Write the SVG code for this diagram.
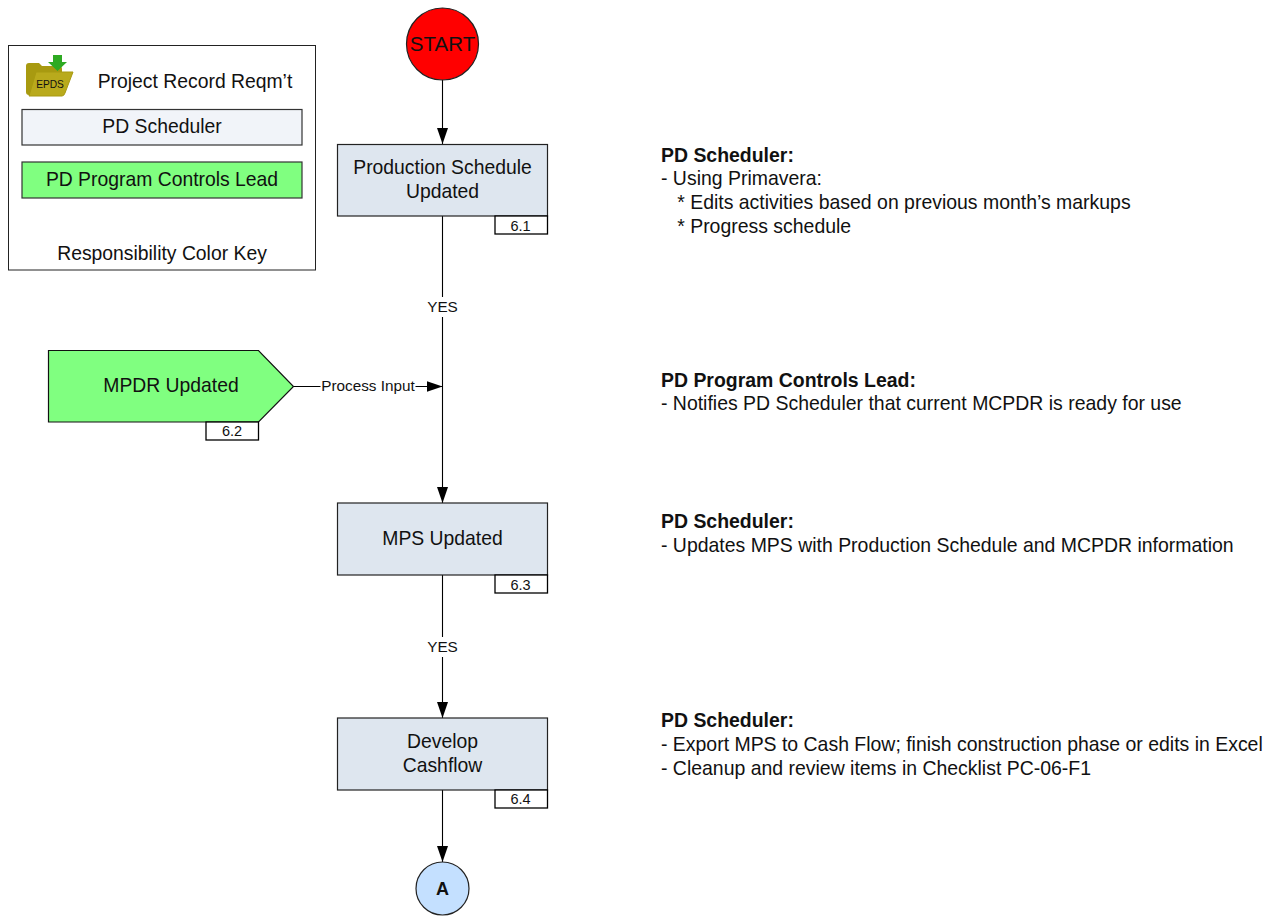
<svg xmlns="http://www.w3.org/2000/svg" width="1275" height="916" viewBox="0 0 1275 916">
<style>
text{font-family:"Liberation Sans",Arial,sans-serif;fill:#111}
.n{font-size:19.350px;text-anchor:middle}
.l{font-size:15.300px;text-anchor:middle}
.t{font-size:14.500px;text-anchor:middle}
.d{font-size:19.450px}
.b{font-weight:bold}
.box{fill:#dee6ef;stroke:#222;stroke-width:1.200}
.tag{fill:#fff;stroke:#000;stroke-width:1.300}
.c{fill:none;stroke:#000;stroke-width:1.100}
</style>
<defs>
<marker id="a" markerUnits="userSpaceOnUse" markerWidth="16" markerHeight="12" refX="16" refY="6" orient="auto" viewBox="0 0 16 12"><path d="M0,0.500L16,6L0,11.500Z" fill="#000"/></marker>
</defs>
<rect width="1275" height="916" fill="#fff"/>
<g id="legend">
<rect x="8.500" y="45.500" width="307" height="224.500" fill="#fff" stroke="#222" stroke-width="1"/>
<g id="folder-icon">
<path d="M26,66Q26,63 29,63H39L42,66H59Q62,66 62,69V74H40L34,95H29Q26,95 26,92Z" fill="#a89a10"/>
<path d="M36,72H73L65,93Q64,96 62,96H29Z" fill="#b9aa1c" stroke="#a89a10"/>
<path d="M53,55H62V62H67L57.500,71L48,62H53Z" fill="#2eaa22"/>
<text x="50" y="87.500" font-size="10.200" text-anchor="middle">EPDS</text>
</g>
<text x="195" y="88" class="n">Project Record Reqm’t</text>
<rect x="22" y="109.500" width="280" height="35.500" fill="#f1f4f9" stroke="#333" stroke-width="1.200"/>
<text x="162" y="133" class="n">PD Scheduler</text>
<rect x="22" y="162" width="280" height="36" fill="#80ff80" stroke="#333" stroke-width="1.200"/>
<text x="162" y="185.500" class="n">PD Program Controls Lead</text>
<text x="162" y="260" class="n">Responsibility Color Key</text>
</g>
<g id="connectors">
<path class="c" d="M442.500,80V144" marker-end="url(#a)"/>
<path class="c" d="M442.500,216V503" marker-end="url(#a)"/>
<path class="c" d="M293.500,386.500H442.500" marker-end="url(#a)"/>
<path class="c" d="M442.500,575V718" marker-end="url(#a)"/>
<path class="c" d="M442.500,790V862" marker-end="url(#a)"/>
<rect x="425" y="297" width="35" height="20" fill="#fff"/>
<text x="442.500" y="312" class="l">YES</text>
<rect x="320.500" y="377" width="95" height="20" fill="#fff"/>
<text x="368" y="391" class="l">Process Input</text>
<rect x="425" y="637" width="35" height="20" fill="#fff"/>
<text x="442.500" y="652" class="l">YES</text>
</g>
<g id="start">
<circle cx="442.500" cy="44" r="36" fill="#f00" stroke="#222" stroke-width="1.200"/>
<text x="442.500" y="51" class="n" style="font-size:20.500px">START</text>
</g>
<g id="n61">
<rect x="337.500" y="144.500" width="210" height="71.500" class="box"/>
<text x="442.500" y="173.500" class="n">Production Schedule</text>
<text x="442.500" y="198" class="n">Updated</text>
<rect x="495" y="216" width="52.500" height="18" class="tag"/>
<text x="520.500" y="230.500" class="t">6.1</text>
</g>
<g id="n62">
<path d="M48.500,350.500H258.500L293.500,386.500L258.500,422H48.500Z" fill="#80ff80" stroke="#111" stroke-width="1.200"/>
<text x="171" y="392" class="n">MPDR Updated</text>
<rect x="206" y="422" width="52.500" height="18" class="tag"/>
<text x="232" y="436" class="t">6.2</text>
</g>
<g id="n63">
<rect x="337.500" y="503" width="210" height="72" class="box"/>
<text x="442.500" y="545" class="n">MPS Updated</text>
<rect x="495" y="575" width="52.500" height="18" class="tag"/>
<text x="520.500" y="589.500" class="t">6.3</text>
</g>
<g id="n64">
<rect x="337.500" y="718" width="210" height="72" class="box"/>
<text x="442.500" y="748" class="n">Develop</text>
<text x="442.500" y="772" class="n">Cashflow</text>
<rect x="495" y="790" width="52.500" height="18" class="tag"/>
<text x="520.500" y="804" class="t">6.4</text>
</g>
<g id="offpage-a">
<circle cx="442.500" cy="888.500" r="26.500" fill="#c4e0ff" stroke="#222" stroke-width="1.200"/>
<text x="442.500" y="894.500" class="n b" style="font-size:18px">A</text>
</g>
<g id="notes">
<text x="661" y="161.500" class="d b">PD Scheduler:</text>
<text x="661" y="185" class="d">- Using Primavera:</text>
<text x="661" y="209" class="d" xml:space="preserve">   * Edits activities based on previous month’s markups</text>
<text x="661" y="233" class="d" xml:space="preserve">   * Progress schedule</text>
<text x="661" y="386.500" class="d b">PD Program Controls Lead:</text>
<text x="661" y="410" class="d">- Notifies PD Scheduler that current MCPDR is ready for use</text>
<text x="661" y="528" class="d b">PD Scheduler:</text>
<text x="661" y="552" class="d">- Updates MPS with Production Schedule and MCPDR information</text>
<text x="661" y="727" class="d b">PD Scheduler:</text>
<text x="661" y="751" class="d">- Export MPS to Cash Flow; finish construction phase or edits in Excel</text>
<text x="661" y="775" class="d">- Cleanup and review items in Checklist PC-06-F1</text>
</g>
</svg>
